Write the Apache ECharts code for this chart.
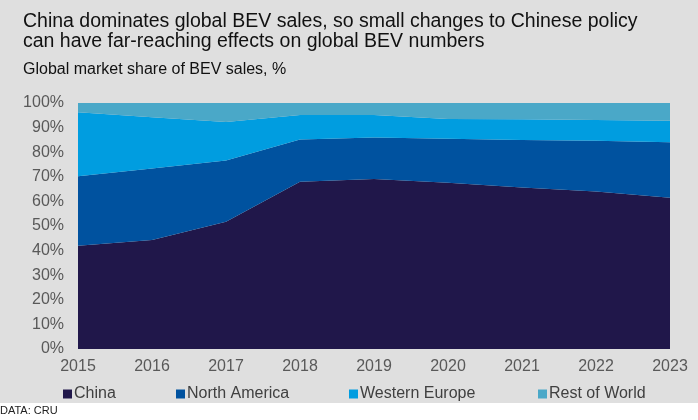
<!DOCTYPE html>
<html>
<head>
<meta charset="UTF-8">
<title>Global BEV sales share</title>
<script type="text/javascript" src="https://cdn.jsdelivr.net/npm/echarts@6/dist/echarts.min.js"></script>
<style>
body{margin:0;background:#fff;}
#main{width:698px;height:420px;}
</style>
</head>
<body>
<div id="main"></div>
<script type="text/javascript">
// market share by region, %
var years = ['2015','2016','2017','2018','2019','2020','2021','2022','2023'];
var china = [42, 44.3, 51.7, 68, 69.1, 67.6, 65.6, 64, 61.5];
var northAmerica = [28.2, 29.1, 24.9, 17.2, 16.9, 17.9, 19.4, 20.7, 22.5];
var westernEurope = [26, 20.8, 15.7, 9.9, 9.1, 8, 8.4, 8.4, 8.8];
var restOfWorld = [3.8, 5.8, 7.7, 4.9, 4.9, 6.5, 6.6, 6.9, 7.2];

var colors = ['#20174a', '#00529f', '#009de0', '#4aa8c8'];
var font = 'Liberation Sans, Arial, sans-serif';

function legendItem(name, left){
	return {
		data: [name],
		left: left,
		top: 381,
		itemWidth: 9,
		itemHeight: 9,
		itemGap: 0,
		icon: 'rect',
		textStyle: {fontFamily: font, fontSize: 16, color: '#404040', padding: [0, 0, 0, -3]}
	};
}

function area(name, data, i){
	return {
		name: name,
		type: 'line',
		stack: 'total',
		data: data,
		symbol: 'none',
		lineStyle: {width: 0},
		areaStyle: {color: colors[i], opacity: 1},
		itemStyle: {color: colors[i]}
	};
}

var myChart = echarts.init(document.getElementById('main'));
var option = {
	animation: false,
	graphic: [
		{type: 'rect', left: 0, top: 0, shape: {width: 698, height: 403}, style: {fill: '#dfdfdf'}, z: -10},
		{type: 'text', left: 23, top: 12, style: {text: 'China dominates global BEV sales, so small changes to Chinese policy\ncan have far-reaching effects on global BEV numbers', font: '19.5px ' + font, fill: '#111', lineHeight: 20}},
		{type: 'text', left: 23, top: 62, style: {text: 'Global market share of BEV sales, %', font: '16px ' + font, fill: '#111'}},
		{type: 'text', left: 0, top: 405, style: {text: 'DATA: CRU', font: '11px ' + font, fill: '#222'}}
	],
	legend: [
		legendItem('China', 58),
		legendItem('North America', 171),
		legendItem('Western Europe', 344),
		legendItem('Rest of World', 533)
	],
	grid: {left: 78, right: 28, top: 103, bottom: 71},
	xAxis: {
		type: 'category',
		data: years,
		boundaryGap: false,
		axisLine: {show: false},
		axisTick: {show: false},
		axisLabel: {fontFamily: font, fontSize: 16, color: '#595959', margin: 10}
	},
	yAxis: {
		type: 'value',
		min: 0,
		max: 100,
		interval: 10,
		splitLine: {show: false},
		axisLabel: {formatter: '{value}%', fontFamily: font, fontSize: 16, color: '#595959', margin: 14}
	},
	series: [
		area('China', china, 0),
		area('North America', northAmerica, 1),
		area('Western Europe', westernEurope, 2),
		area('Rest of World', restOfWorld, 3)
	]
};
myChart.setOption(option);
</script>
</body>
</html>
